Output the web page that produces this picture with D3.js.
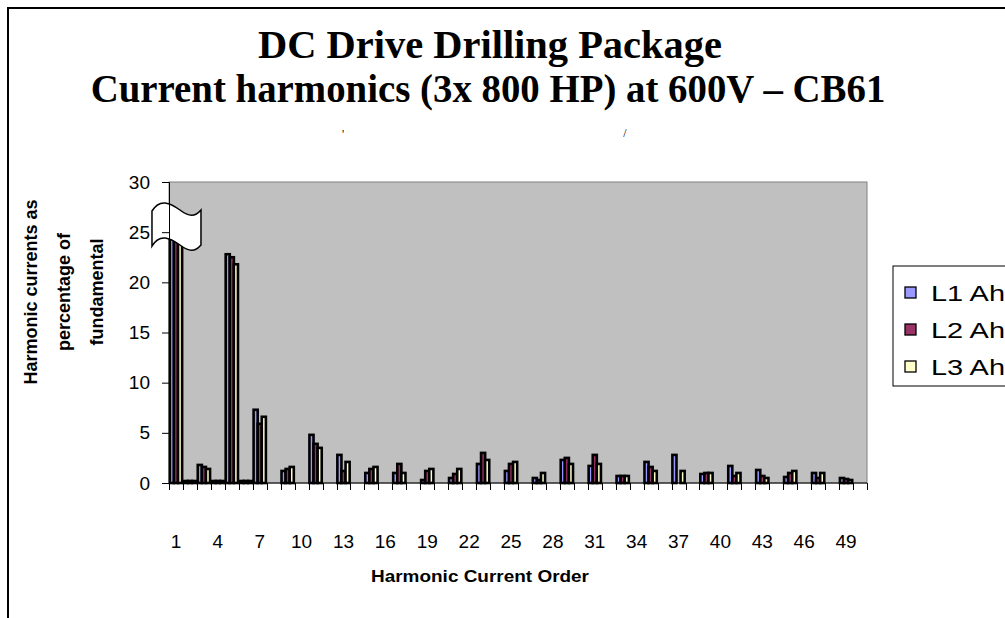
<!DOCTYPE html>
<html>
<head>
<meta charset="utf-8">
<script src="https://cdn.jsdelivr.net/npm/d3@7"></script>
<style>
  html, body { margin: 0; padding: 0; background: #fff; overflow: hidden; }
  svg { display: block; }
</style>
</head>
<body>
<svg id="chart" width="1005" height="618"></svg>
<script>
// Harmonic orders on the x axis
const categories = [1,2,3,4,5,6,7,8,9,10,11,12,13,14,15,16,17,18,19,20,
                    21,22,23,24,25,26,27,28,29,30,31,32,33,34,35,36,37,38,39,40,
                    41,42,43,44,45,46,47,48,49,50];

// Harmonic current per phase, % of fundamental (order 1 is shown broken)
const seriesNames = ["L1 Ah", "L2 Ah", "L3 Ah"];
const l1Values = [26,0.2,1.8,0.2,22.8,0.2,7.3,0,1.2,0,4.8,0,2.8,0,1.0,0,1.0,0,0.3,0,
                  0.5,0,1.9,0,1.2,0,0.5,0,2.3,0,1.7,0,0.7,0,2.1,0,2.8,0,0.9,0,
                  1.7,0,1.3,0,0.6,0,1.0,0,0.5,0];
const l2Values = [26,0.2,1.6,0.2,22.5,0.2,5.9,0,1.4,0,3.9,0,1.2,0,1.4,0,1.9,0,1.2,0,
                  0.9,0,3.0,0,1.9,0,0.3,0,2.5,0,2.8,0,0.7,0,1.6,0,0,0,1.0,0,
                  0.7,0,0.7,0,1.0,0,0.5,0,0.4,0];
const l3Values = [26,0.2,1.4,0.2,21.8,0.2,6.6,0,1.6,0,3.5,0,2.1,0,1.6,0,1.0,0,1.4,0,
                  1.4,0,2.3,0,2.1,0,1.0,0,1.9,0,1.9,0,0.7,0,1.2,0,1.2,0,1.0,0,
                  1.0,0,0.5,0,1.2,0,1.0,0,0.3,0];
const seriesColors = ["#9999ff", "#993366", "#ffffcc"];

const yTickValues = [0, 5, 10, 15, 20, 25, 30];
const xLabelValues = [1,4,7,10,13,16,19,22,25,28,31,34,37,40,43,46,49];

const titleLines = ["DC Drive Drilling Package",
                    "Current harmonics (3x 800 HP) at 600V \u2013 CB61"];
const yTitleLines = ["Harmonic currents as", "percentage of", "fundamental"];
const xTitle = "Harmonic Current Order";

const svg = d3.select("#chart");
const plot = { left: 169, right: 867, top: 182, bottom: 483 };

// Fit a text element to a given width by horizontal scaling around its anchor
function fitWidth(sel, cx, base, w) {
  const natural = sel.node().getComputedTextLength();
  sel.attr("transform", `translate(${cx},${base}) scale(${w / natural},1)`);
}

// Outer chart frame (extends past the visible window on the right and bottom)
svg.append("rect")
  .attr("x", 8).attr("y", 8).attr("width", 1200).attr("height", 800)
  .attr("fill", "#fff").attr("stroke", "#000").attr("stroke-width", 2);

// Title: condensed bold serif, each line fitted to its width
const title = svg.append("g")
  .attr("font-family", "'Liberation Serif', 'Times New Roman', serif")
  .attr("font-weight", "bold").attr("font-size", 39).attr("text-anchor", "middle");
const titleLayout = [ { cx: 490, base: 58, w: 464 }, { cx: 488, base: 102, w: 795 } ];
titleLines.forEach((t, i) => {
  const L = titleLayout[i];
  fitWidth(title.append("text").text(t), L.cx, L.base, L.w);
});
// clipped remnants of a third title line
title.append("text").attr("x", 343).attr("y", 138).attr("font-size", 12).attr("font-weight", "normal").text("'");
title.append("text").attr("x", 625).attr("y", 137).attr("font-size", 12).attr("font-weight", "normal").text("/");

// Scales
const x = d3.scaleBand().domain(categories).range([plot.left, plot.right])
  .paddingInner(0.12).paddingOuter(0.06);
const xEdge = d3.scaleLinear().domain([0, categories.length]).range([plot.left, plot.right]);
const xs = d3.scaleBand().domain(seriesNames).range([0, x.bandwidth()]);
const y = d3.scaleLinear().domain([0, 30]).range([plot.bottom, plot.top]);

// Plot area
svg.append("rect")
  .attr("x", plot.left).attr("y", plot.top)
  .attr("width", plot.right - plot.left).attr("height", plot.bottom - plot.top)
  .attr("fill", "#c0c0c0").attr("stroke", "#808080").attr("stroke-width", 1);

// Bars: narrow columns with heavy black outlines
const seriesValues = [l1Values, l2Values, l3Values];
seriesNames.forEach((name, si) => {
  const data = categories.map((c, i) => ({ c, v: seriesValues[si][i] })).filter(d => d.v > 0);
  svg.append("g").selectAll("rect").data(data).join("rect")
    .attr("x", d => x(d.c) + xs(name))
    .attr("y", d => y(d.v))
    .attr("width", xs.bandwidth())
    .attr("height", d => y(0) - y(d.v))
    .attr("fill", seriesColors[si])
    .attr("stroke", "#000").attr("stroke-width", 2.6);
});

// Axis break symbol over the fundamental
const bx = x(1) + x.bandwidth() / 2;
const flag = d3.path();
flag.moveTo(bx - 24, 211);
flag.bezierCurveTo(bx - 16, 198, bx - 6, 203, bx + 4, 210);
flag.bezierCurveTo(bx + 13, 217, bx + 19, 217, bx + 25, 210);
flag.lineTo(bx + 25, 245);
flag.bezierCurveTo(bx + 19, 252, bx + 13, 252, bx + 4, 245);
flag.bezierCurveTo(bx - 6, 238, bx - 16, 233, bx - 24, 246);
flag.closePath();
svg.append("path").attr("d", flag.toString())
  .attr("fill", "#fff").attr("stroke", "#000").attr("stroke-width", 1.5);

// Y axis
const yAxis = svg.append("g").attr("transform", `translate(${plot.left},0)`)
  .call(d3.axisLeft(y).tickValues(yTickValues).tickSize(7).tickPadding(12));
yAxis.select(".domain").attr("stroke", "#000");
yAxis.selectAll("text").attr("font-family", "'Liberation Sans', Arial, sans-serif")
  .attr("font-size", 19).attr("fill", "#000");

// X axis: ticks on category boundaries, labels on every third category
const xAxisG = svg.append("g");
xAxisG.append("line").attr("x1", plot.left).attr("x2", plot.right)
  .attr("y1", plot.bottom).attr("y2", plot.bottom).attr("stroke", "#000");
xAxisG.selectAll("line.tick").data(d3.range(0, categories.length + 1)).join("line")
  .attr("class", "tick")
  .attr("x1", d => Math.round(xEdge(d)) + 0.5).attr("x2", d => Math.round(xEdge(d)) + 0.5)
  .attr("y1", plot.bottom).attr("y2", plot.bottom + 7).attr("stroke", "#000");
xAxisG.selectAll("text").data(xLabelValues).join("text")
  .attr("x", d => x(d) + x.bandwidth() / 2).attr("y", 548)
  .attr("text-anchor", "middle")
  .attr("font-family", "'Liberation Sans', Arial, sans-serif").attr("font-size", 19)
  .text(d => d);

// Axis titles
const xTitleEl = svg.append("text").attr("text-anchor", "middle")
  .attr("font-family", "'Liberation Sans', Arial, sans-serif").attr("font-weight", "bold")
  .attr("font-size", 17).text(xTitle);
fitWidth(xTitleEl, 480, 582, 218);

const yTitle = svg.append("g").attr("transform", "translate(0,292)")
  .attr("font-family", "'Liberation Sans', Arial, sans-serif").attr("font-weight", "bold")
  .attr("font-size", 18).attr("text-anchor", "middle");
const yTitleX = [37, 70, 103];
yTitleLines.forEach((t, i) => {
  yTitle.append("text").attr("transform", `translate(${yTitleX[i]},0) rotate(-90)`).text(t);
});

// Legend
const legend = svg.append("g");
legend.append("rect").attr("x", 893).attr("y", 266).attr("width", 200).attr("height", 120)
  .attr("fill", "#fff").attr("stroke", "#000").attr("stroke-width", 1);
seriesNames.forEach((name, i) => {
  const ly = 293 + i * 37;
  legend.append("rect").attr("x", 905).attr("y", ly - 6).attr("width", 11).attr("height", 11)
    .attr("fill", seriesColors[i]).attr("stroke", "#000").attr("stroke-width", 1.3);
  const t = legend.append("text")
    .attr("font-family", "'Liberation Sans', Arial, sans-serif").attr("font-size", 22)
    .text(name);
  fitWidth(t, 931, ly + 8, 74);
});
</script>
</body>
</html>
